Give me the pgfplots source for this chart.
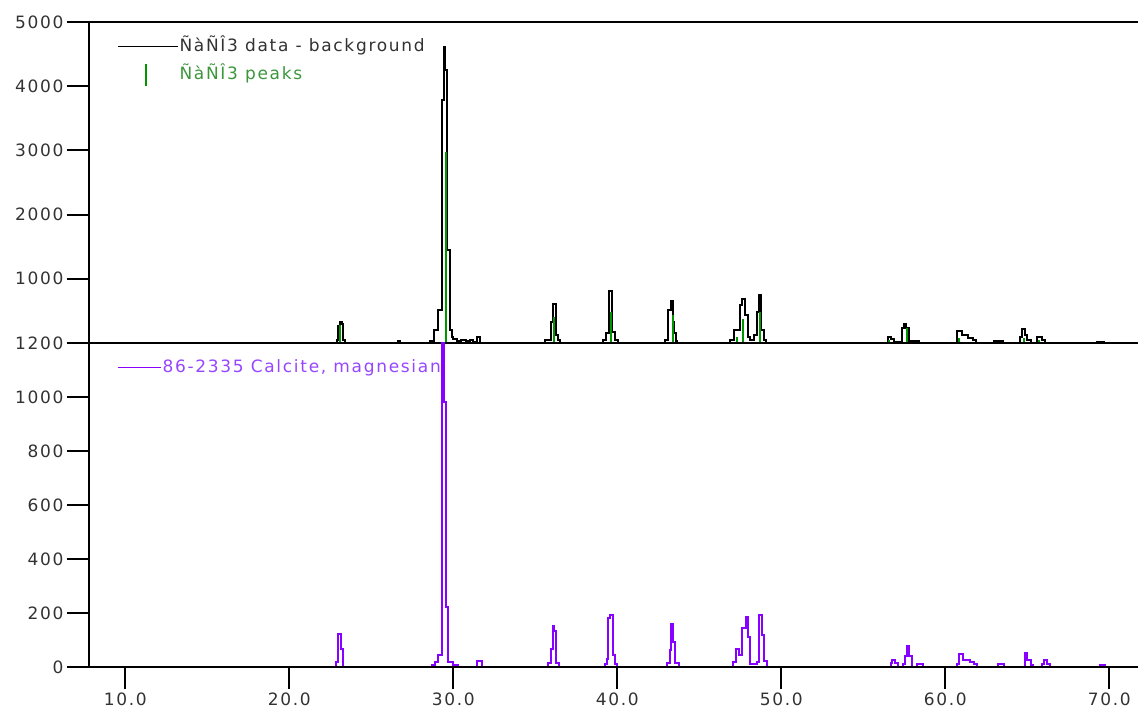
\documentclass[border=0pt]{standalone}
\usepackage{fontspec}
\setmainfont{DejaVu Sans}[LetterSpace=10]
\usepackage{pgfplots}
\pgfplotsset{compat=1.18}

\definecolor{pkgreen}{RGB}{0,150,0}
\definecolor{pktext}{RGB}{60,150,60}
\definecolor{calc}{RGB}{136,0,255}
\definecolor{calctext}{RGB}{150,70,255}
\definecolor{lbl}{RGB}{50,50,50}

\pgfplotstableread{
x y
7.79 0
22.90 40
23.00 260
23.10 330
23.20 290
23.30 40
23.40 0
26.66 30
26.74 0
28.58 30
28.82 200
29.07 510
29.31 3780
29.43 4610
29.52 4250
29.62 1450
29.80 200
29.90 100
30.00 60
30.25 35
30.50 45
30.75 35
31.00 40
31.20 20
31.42 95
31.65 0
35.60 40
35.96 330
36.08 610
36.26 130
36.40 40
36.50 0
39.12 40
39.30 150
39.49 810
39.67 170
39.85 40
40.05 0
42.90 40
43.10 510
43.28 655
43.40 330
43.48 150
43.56 30
43.65 0
46.87 40
47.10 200
47.46 590
47.60 690
47.78 440
47.95 100
48.10 50
48.35 120
48.50 480
48.62 750
48.74 200
48.95 40
49.05 0
56.49 90
56.70 60
56.85 20
57.35 230
57.50 300
57.62 230
57.80 30
58.40 0
60.70 185
61.00 125
61.40 75
61.70 40
61.90 0
63.00 30
63.50 0
64.55 100
64.70 220
64.87 125
65.00 40
65.20 0
65.60 90
65.90 40
66.10 0
69.23 20
69.70 0
71.75 0
}\databg

\pgfplotstableread{
x y
23.09 280
29.55 2975
36.14 400
39.62 480
43.40 440
47.30 100
47.67 370
48.70 480
56.55 50
57.66 230
60.84 80
64.80 80
65.71 50
}\peaks

\pgfplotstableread{
x y
7.79 0
22.84 20
22.95 122
23.13 65
23.30 0
28.68 7
28.88 20
29.09 44
29.29 1400
29.43 980
29.55 223
29.66 20
30.00 7
30.30 0
31.46 23
31.73 0
35.79 15
35.94 65
36.06 152
36.16 135
36.26 15
36.46 0
39.25 10
39.35 28
39.45 180
39.55 193
39.72 44
39.85 10
40.00 0
43.01 15
43.20 62
43.26 158
43.38 94
43.50 15
43.75 0
47.07 20
47.24 65
47.44 44
47.60 143
47.86 187
48.00 110
48.10 10
48.50 20
48.66 193
48.80 118
48.96 23
49.15 0
56.67 15
56.78 27
56.95 15
57.13 0
57.40 10
57.55 40
57.65 78
57.80 40
57.95 0
58.26 12
58.62 0
60.73 10
60.85 47
61.10 25
61.50 20
61.75 10
61.92 0
63.23 12
63.58 0
64.86 50
65.00 27
65.20 8
65.33 0
65.91 12
66.05 27
66.20 12
66.38 0
69.43 8
69.74 0
71.75 0
}\calcite

\pgfplotsset{
  xrd/.style={
    scale only axis,
    width=1049pt,
    xmin=7.79, xmax=71.75,
    axis on top,
    every tick/.style={black, line width=2pt},
    major tick length=22pt,
    ticklabel style={font=\fontsize{17}{20}\selectfont, text=lbl},
    /pgf/number format/assume math mode=true,
    /pgf/number format/1000 sep={},
    legend style={draw=none, fill=none, at={(0,1)}, anchor=north west,
      inner sep=0pt, font=\fontsize{17}{20}\selectfont,
      nodes={inner xsep=1pt, inner ysep=0pt, text height=13pt, text depth=4pt},
      cells={anchor=west}},
  },
  xrdlines/.style={
    axis y line=left,
    tick align=outside,
    axis line style={-, line width=2pt},
    x axis line style={-},
    y axis line style={-},
  }
}

\begin{document}
\begin{tikzpicture}
\useasboundingbox (0,0) rectangle (1138pt,709pt);

% upper panel: measured data and peak list
\begin{axis}[xrd,
  at={(89pt,366pt)}, anchor=south west,
  height=321pt,
  ymin=0, ymax=5000,
  axis x line=box,
  xrdlines,
  xtick=\empty,
  ytick={1000,2000,3000,4000,5000},
  legend image code/.code={\draw[black, line width=1.3pt] (0pt,0pt) -- (60pt,0pt);},
  legend style={xshift=28pt, yshift=-16pt, row sep=8pt},
]
\addplot[black, line width=2pt, const plot] table {\databg};
\addlegendentry{\textcolor{lbl}{ÑàÑÎ3 data - background}}
\addplot[pkgreen, line width=2.2pt, ycomb,
  legend image code/.code={\draw[pkgreen, line width=2pt] (28pt,-11pt) -- (28pt,11pt);}] table {\peaks};
\addlegendentry{\textcolor{pktext}{ÑàÑÎ3 peaks}}
\end{axis}

% lower panel: reference pattern
\begin{axis}[xrd,
  at={(89pt,42pt)}, anchor=south west,
  height=324pt,
  ymin=0, ymax=1200,
  axis x line=bottom,
  xrdlines,
  xtick={10,20,30,40,50,60,70},
  xticklabel style={/pgf/number format/.cd, fixed, fixed zerofill, precision=1},
  ytick={0,200,400,600,800,1000,1200},
  legend image code/.code={\draw[calc, line width=1.3pt] (0pt,0pt) -- (43pt,0pt);},
  legend style={xshift=28pt, yshift=-16pt},
]
\addplot[calc, line width=2pt, const plot] table {\calcite};
\addlegendentry{\textcolor{calctext}{86-2335 Calcite, magnesian}}
\end{axis}
\end{tikzpicture}
\end{document}
